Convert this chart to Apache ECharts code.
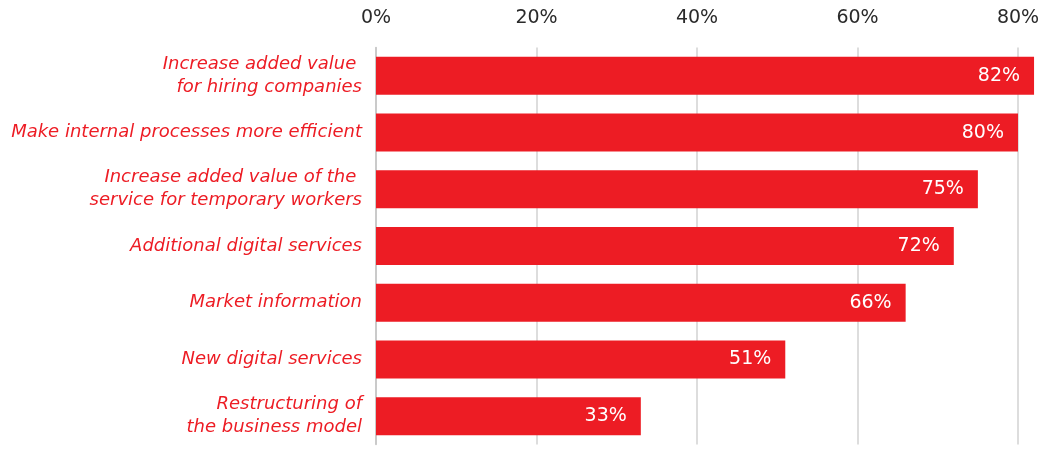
<!DOCTYPE html>
<html>
<head>
<meta charset="utf-8">
<script src="https://cdn.jsdelivr.net/npm/echarts@6/dist/echarts.min.js"></script>
<style>
  html, body { margin: 0; padding: 0; background: #fff; }
  #chart { width: 1043px; height: 452px; }
</style>
</head>
<body>
<div id="chart"></div>
<script>
// categories, top to bottom (the trailing spaces are in the original)
const categories = [
  'Increase added value \nfor hiring companies',
  'Make internal processes more efficient',
  'Increase added value of the \nservice for temporary workers',
  'Additional digital services',
  'Market information',
  'New digital services',
  'Restructuring of\nthe business model'
]
const values = [82, 80, 75, 72, 66, 51, 33]
const tickValues = [0, 20, 40, 60, 80]

const chart = echarts.init(document.getElementById('chart'))

chart.setOption({
  animation: false,
  grid: {
    left: 376,
    right: 25,
    top: 47.5,
    bottom: 7.5
  },
  xAxis: {
    type: 'value',
    position: 'top',
    min: 0,
    max: 80,
    interval: 20,
    axisLine: { show: false },
    axisTick: { show: false },
    axisLabel: {
      margin: 20,
      fontFamily: 'DejaVu Sans',
      fontSize: 19,
      color: '#2a2a2a',
      formatter: v => tickValues.includes(v) ? v + '%' : ''
    },
    splitLine: {
      lineStyle: { color: '#d2d2d2', width: 1.5 }
    }
  },
  yAxis: {
    type: 'category',
    inverse: true,
    data: categories,
    axisLine: {
      show: true,
      lineStyle: { color: '#c4c4c4', width: 1.5 }
    },
    axisTick: { show: false },
    axisLabel: {
      margin: 14,
      fontFamily: 'DejaVu Sans',
      fontStyle: 'italic',
      fontSize: 18,
      lineHeight: 23,
      color: '#ed1c24',
      align: 'right'
    }
  },
  series: [
    {
      type: 'bar',
      data: values,
      barWidth: 38,
      clip: false,
      itemStyle: { color: '#ed1c24' },
      label: {
        show: true,
        position: 'insideRight',
        distance: 14,
        fontFamily: 'DejaVu Sans',
        fontSize: 19,
        color: '#fff',
        formatter: p => p.value + '%'
      }
    }
  ]
})
</script>
</body>
</html>
